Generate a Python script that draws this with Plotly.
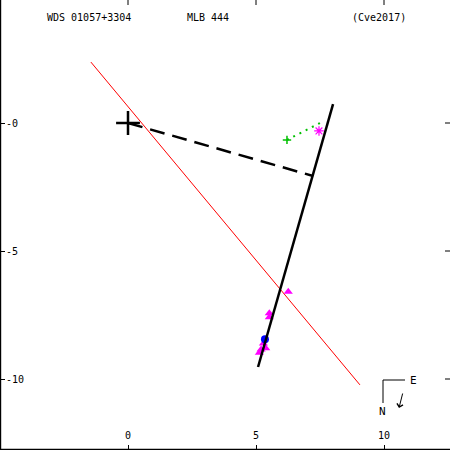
import plotly.graph_objects as go

# ---- data (arcsec offsets, x = East-ish, y = North-ish as plotted) ----
x_tickvals = [0, 5, 10]
x_ticktext = ["0", "5", "10"]
y_tickvals = [0, -5, -10]
y_ticktext = ["-0", "-5", "-10"]

red_x = [-1.45, 9.06]
red_y = [2.38, -10.23]

orbit_x = [5.08, 8.01]
orbit_y = [-9.53, 0.74]

dash_x = [0.0, 7.23]
dash_y = [0.0, -2.07]

green_dot_x = [6.21, 7.58]
green_dot_y = [-0.66, 0.04]

green_plus_x = [6.21]
green_plus_y = [-0.66]

star_x = [7.46]
star_y = [-0.31]

tri_x = [6.26, 5.52, 5.52, 5.29, 5.38, 5.13, 5.20]
tri_y = [-6.59, -7.43, -7.59, -8.61, -8.80, -8.97, -8.85]

blue_x = [5.35]
blue_y = [-8.45]

primary_x = [0.0]
primary_y = [0.0]

title_left = "WDS 01057+3304"
title_mid = "MLB 444"
title_right = "(Cve2017)"

FONT = "DejaVu Sans Mono"
W = H = 450

fig = go.Figure()
fig.add_trace(go.Scatter(x=red_x, y=red_y, mode="lines",
                         line=dict(color="#ff0000", width=1)))
fig.add_trace(go.Scatter(x=green_dot_x, y=green_dot_y, mode="lines",
                         line=dict(color="#00c000", width=2, dash="2px,5px")))
fig.add_trace(go.Scatter(x=green_plus_x, y=green_plus_y, mode="markers",
                         marker=dict(symbol="cross-thin", size=6,
                                     line=dict(color="#00c000", width=1.5))))
fig.add_trace(go.Scatter(x=tri_x, y=tri_y, mode="markers",
                         marker=dict(symbol="triangle-up", size=8, color="#ff00ff",
                                     line=dict(width=0))))
fig.add_trace(go.Scatter(x=star_x, y=star_y, mode="markers",
                         marker=dict(symbol="asterisk", size=8,
                                     line=dict(color="#ff00ff", width=1.2))))
fig.add_trace(go.Scatter(x=blue_x, y=blue_y, mode="markers",
                         marker=dict(symbol="circle", size=8, color="#0000ff",
                                     line=dict(width=0))))
fig.add_trace(go.Scatter(x=orbit_x, y=orbit_y, mode="lines",
                         line=dict(color="#000000", width=2.5)))
fig.add_trace(go.Scatter(x=dash_x, y=dash_y, mode="lines",
                         line=dict(color="#000000", width=2.5, dash="15px,8px")))
fig.add_trace(go.Scatter(x=primary_x, y=primary_y, mode="markers",
                         marker=dict(symbol="cross-thin", size=17,
                                     line=dict(color="#000000", width=2.5))))

px_per_unit = 25.6
x0_px, y0_px = 128, 123
xr = [-x0_px / px_per_unit, (W - x0_px) / px_per_unit]
yr = [-(H - y0_px) / px_per_unit, y0_px / px_per_unit]

shapes = []
# frame lines (left & bottom)
shapes.append(dict(type="line", xref="paper", yref="paper", x0=0.6 / W, x1=0.6 / W,
                   y0=0, y1=1, line=dict(color="black", width=1.2)))
shapes.append(dict(type="line", xref="paper", yref="paper", x0=0, x1=1,
                   y0=0.6 / H, y1=0.6 / H, line=dict(color="black", width=1.2)))
# mirrored ticks (top / right)
for v in x_tickvals:
    shapes.append(dict(type="line", xref="x", yref="paper", x0=v, x1=v,
                       y0=1, y1=1 - 5 / H, line=dict(color="black", width=1)))
for v in y_tickvals:
    shapes.append(dict(type="line", xref="paper", yref="y", x0=1, x1=1 - 5 / W,
                       y0=v, y1=v, line=dict(color="black", width=1)))
# compass
def P(px, py):
    return px / W, 1 - py / H
cx0, cy0 = P(383, 380)
cx1, _ = P(405, 380)
_, cy1 = P(383, 403)
shapes.append(dict(type="line", xref="paper", yref="paper", x0=cx0, y0=cy0, x1=cx1, y1=cy0,
                   line=dict(color="black", width=1)))
shapes.append(dict(type="line", xref="paper", yref="paper", x0=cx0, y0=cy0, x1=cx0, y1=cy1,
                   line=dict(color="black", width=1)))

annotations = []
for txt, px in [(title_left, 45), (title_mid, 185), (title_right, 350)]:
    ax_, ay_ = P(px, 17)
    annotations.append(dict(text=txt, xref="paper", yref="paper", x=ax_, y=ay_,
                            xanchor="left", yanchor="middle", showarrow=False,
                            font=dict(family=FONT, size=10, color="black")))
ex, ey = P(413, 380)
annotations.append(dict(text="E", xref="paper", yref="paper", x=ex, y=ey,
                        xanchor="center", yanchor="middle", showarrow=False,
                        font=dict(family=FONT, size=11, color="black")))
nx, ny = P(382, 411)
annotations.append(dict(text="N", xref="paper", yref="paper", x=nx, y=ny,
                        xanchor="center", yanchor="middle", showarrow=False,
                        font=dict(family=FONT, size=11, color="black")))
hx, hy = P(399, 408)
annotations.append(dict(text="", xref="paper", yref="paper", x=hx, y=hy,
                        showarrow=True, axref="pixel", ayref="pixel", ax=4, ay=-16,
                        arrowhead=4, arrowsize=1.2, arrowwidth=1, arrowcolor="black",
                        standoff=0, startstandoff=0))

fig.update_layout(
    width=W, height=H,
    margin=dict(l=0, r=0, t=0, b=0, pad=0, autoexpand=False),
    paper_bgcolor="white", plot_bgcolor="white",
    showlegend=False,
    shapes=shapes, annotations=annotations,
    font=dict(family=FONT, size=10, color="black"),
    xaxis=dict(range=xr, showgrid=False, zeroline=False, showline=False,
               ticks="inside", ticklen=5,
               tickcolor="black", tickvals=x_tickvals, ticktext=x_ticktext,
               ticklabelposition="inside", ticklabelstandoff=3, automargin=False,
               tickfont=dict(family=FONT, size=10, color="black")),
    yaxis=dict(range=yr, showgrid=False, zeroline=False, showline=False,
               ticks="inside", ticklen=5,
               tickcolor="black", tickvals=y_tickvals, ticktext=y_ticktext,
               ticklabelposition="inside", automargin=False,
               tickfont=dict(family=FONT, size=10, color="black")),
)

fig.write_html("out.html", config={"displayModeBar": False},
               post_script="document.body.style.margin='0';document.body.style.overflow='hidden';")
